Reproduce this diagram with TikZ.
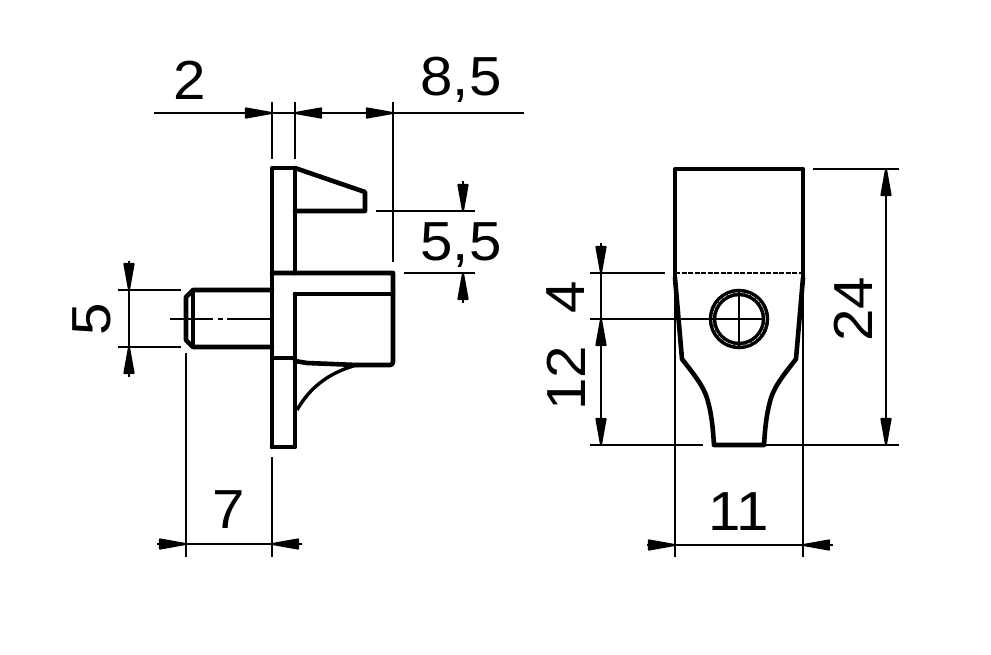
\documentclass[tikz,border=0pt]{standalone}
\usepackage{fontspec}
\setmainfont{Liberation Sans}
\usetikzlibrary{arrows.meta}
\tikzset{
  outline/.style={draw=black,line width=4.6pt,line join=round,line cap=round},
  edge/.style={draw=black,line width=3.4pt,line join=round},
  thinline/.style={draw=black,line width=2.3pt},
  dimtip/.style={thinline,-{Triangle[length=33pt,width=11pt,round]}},
  dimtext/.style={inner sep=0pt,xscale=1.06,font=\fontsize{55}{55}\selectfont}
}
\begin{document}
\begin{tikzpicture}[x=1pt,y=-1pt]
\useasboundingbox (0,0) rectangle (991,654);
% side view
\draw [outline] (272,447) -- (272,168) -- (295,168) -- (295,273);
\draw [outline] (295,168) -- (365,192) -- (365,211) -- (295,211);
\draw [outline] (272,273) -- (393,273) -- (393,358) [rounded corners=3pt] -- (393,365) -- (357,365);
\draw [outline] (295,294) -- (393,294);
\draw [outline] (295,294) -- (295,447) -- (272,447);
\draw [edge] (272,358) -- (295,358);
\draw [outline] (295,361) -- (307,363) -- (357,365);
\draw [edge] (357,365) .. controls (330,372) and (310,387) .. (297,410);
% pin
\draw [outline] (272,290) -- (193,290) -- (186,297) -- (186,340) -- (193,347) -- (272,347);
\draw [edge] (193,290) -- (193,347);
\draw [thinline] (170,319) -- (213,319) (218,319) -- (223,319) (227,319) -- (272,319);
% front view
\draw [outline] (675,278) -- (675,169) -- (803,169) -- (803,278);
\draw [edge,dashed,dash pattern=on 5pt off 1.5pt,line width=2pt] (675,273) -- (803,273);
\draw [outline] (675,278) -- (682,359) .. controls (692,372) and (703,385) .. (707,398) .. controls (712,415) and (713,430) .. (714,445) -- (764,445) .. controls (765,430) and (766,415) .. (771,398) .. controls (775,385) and (786,372) .. (796,359) -- (803,278);
\draw [draw=black,line width=7.5pt] (739,319) circle (26.5pt);
\draw [draw=white,line width=0.5pt,dash pattern=on 5pt off 1pt] (739,319) circle (26.5pt);
\draw [thinline] (739,291) -- (739,347);
% dimensions 2 and 8,5
\draw [thinline] (154,113) -- (524,113);
\draw [thinline] (272,102) -- (272,159);
\draw [thinline] (295,102) -- (295,159);
\draw [thinline] (393,102) -- (393,262);
\draw [dimtip] (243,113) -- (272,113);
\draw [dimtip] (325,113) -- (295,113);
\draw [dimtip] (363,113) -- (393,113);
\node (L2) at (190,80)[dimtext] {2};
\node (L85) at (461,80)[dimtext] {8,5};
% dimension 5,5
\draw [thinline] (376,211) -- (475,211);
\draw [thinline] (404,273) -- (475,273);
\draw [dimtip] (463,181) -- (463,211);
\draw [dimtip] (463,303) -- (463,273);
\node (L55) at (461,245)[dimtext] {5,5};
% dimension 5
\draw [thinline] (118,290) -- (181,290);
\draw [thinline] (118,347) -- (181,347);
\draw [thinline] (129,290) -- (129,347);
\draw [dimtip] (129,261) -- (129,290);
\draw [dimtip] (129,377) -- (129,347);
\node (L5) at (92,319)[rotate=90,dimtext] {5};
% dimension 7
\draw [thinline] (186,353) -- (186,557);
\draw [thinline] (272,457) -- (272,557);
\draw [thinline] (186,544) -- (272,544);
\draw [dimtip] (157,544) -- (186,544);
\draw [dimtip] (302,544) -- (272,544);
\node (L7) at (229,510)[dimtext] {7};
% dimensions 4 and 12
\draw [thinline] (590,273) -- (665,273);
\draw [thinline] (590,319) -- (765,319);
\draw [thinline] (590,445) -- (703,445);
\draw [thinline] (601,273) -- (601,445);
\draw [dimtip] (601,243) -- (601,273);
\draw [dimtip] (601,349) -- (601,319);
\draw [dimtip] (601,415) -- (601,445);
\node (L4) at (566,297)[rotate=90,dimtext] {4};
\node (L12) at (566,378)[rotate=90,dimtext] {12};
% dimension 24
\draw [thinline] (813,169) -- (899,169);
\draw [thinline] (764,445) -- (899,445);
\draw [thinline] (886,169) -- (886,445);
\draw [dimtip] (886,200) -- (886,169);
\draw [dimtip] (886,415) -- (886,445);
\node (L24) at (853,309)[rotate=90,dimtext] {24};
% dimension 11
\draw [thinline] (675,278) -- (675,557);
\draw [thinline] (803,278) -- (803,557);
\draw [thinline] (675,545) -- (803,545);
\draw [dimtip] (647,545) -- (675,545);
\draw [dimtip] (833,545) -- (803,545);
\node (L11) at (739,512)[dimtext] {11};
\end{tikzpicture}
\end{document}
